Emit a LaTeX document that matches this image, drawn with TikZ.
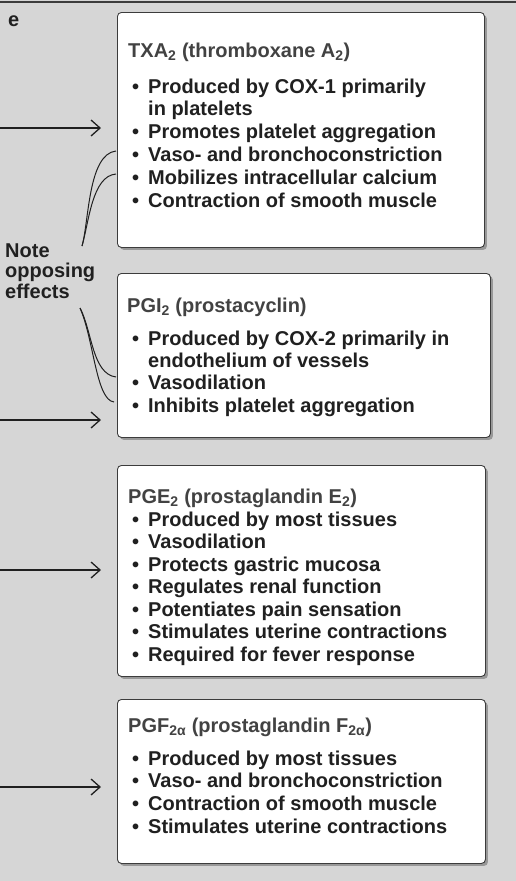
\documentclass[tikz,border=0pt]{standalone}
\usepackage{fontspec}
\setmainfont{Liberation Sans}
\usetikzlibrary{arrows.meta,shadows}
\definecolor{bggray}{RGB}{214,214,214}
\definecolor{inkc}{RGB}{32,32,32}
\definecolor{edgec}{RGB}{60,60,60}
\newcommand{\bl}{\llap{\textbullet\hspace{9pt}}}
\begin{document}
\begin{tikzpicture}[x=1pt,y=-1pt,
  box/.style={draw=edgec,line width=0.9pt,fill=white,rounded corners=4pt,anchor=north west,inner sep=0pt,
    drop shadow={shadow xshift=2.5pt,shadow yshift=-2.5pt,fill=black!60,opacity=0.55}},
  ttl/.style={anchor=base west,inner sep=0pt,font=\fontsize{20}{22}\selectfont\bfseries,text=inkc!85},
  itm/.style={anchor=base west,inner sep=0pt,font=\fontsize{20}{22}\selectfont\bfseries,text=inkc},
  side/.style={anchor=base west,inner sep=0pt,font=\fontsize{20}{22}\selectfont\bfseries,text=inkc},
  arr/.style={-{Straight Barb[length=9pt,width=16pt,line width=1.3pt]},line width=1.3pt,draw=inkc},
  cur/.style={line width=1pt,draw=inkc}]
\fill[bggray] (0,0) rectangle (516,881);
\useasboundingbox (0,0) rectangle (516,881);
\draw[line width=2pt,edgec] (0,2) -- (516,2);
% boxes
\node[box,minimum width=367pt,minimum height=235pt] (box1) at (117,12) {};
\node[box,minimum width=373pt,minimum height=164pt] (box2) at (117,273) {};
\node[box,minimum width=368pt,minimum height=211pt] (box3) at (117,465) {};
\node[box,minimum width=368pt,minimum height=164pt] (box4) at (117,699) {};
% box 1
\node[ttl] (t1) at (128,57) {TXA\textsubscript{2} (thromboxane A\textsubscript{2})};
\node[itm] (b11) at (148,93) {\bl Produced by COX-1 primarily};
\node[itm] (b12) at (148,115.8) {in platelets};
\node[itm] (b13) at (148,138.6) {\bl Promotes platelet aggregation};
\node[itm] (b14) at (148,161.4) {\bl Vaso- and bronchoconstriction};
\node[itm] (b15) at (148,184.2) {\bl Mobilizes intracellular calcium};
\node[itm] (b16) at (148,207) {\bl Contraction of smooth muscle};
% box 2
\node[ttl] (t2) at (127,312) {PGI\textsubscript{2} (prostacyclin)};
\node[itm] (b21) at (148,345) {\bl Produced by COX-2 primarily in};
\node[itm] (b22) at (148,367.3) {endothelium of vessels};
\node[itm] (b23) at (148,389.6) {\bl Vasodilation};
\node[itm] (b24) at (148,412) {\bl Inhibits platelet aggregation};
% box 3
\node[ttl] (t3) at (128,503) {PGE\textsubscript{2} (prostaglandin E\textsubscript{2})};
\node[itm] (b31) at (148,526) {\bl Produced by most tissues};
\node[itm] (b32) at (148,548.5) {\bl Vasodilation};
\node[itm] (b33) at (148,571) {\bl Protects gastric mucosa};
\node[itm] (b34) at (148,593.5) {\bl Regulates renal function};
\node[itm] (b35) at (148,616) {\bl Potentiates pain sensation};
\node[itm] (b36) at (148,638.5) {\bl Stimulates uterine contractions};
\node[itm] (b37) at (148,661) {\bl Required for fever response};
% box 4
\node[ttl] (t4) at (128,732) {PGF\textsubscript{2α} (prostaglandin F\textsubscript{2α})};
\node[itm] (b41) at (148,765) {\bl Produced by most tissues};
\node[itm] (b42) at (148,787.7) {\bl Vaso- and bronchoconstriction};
\node[itm] (b43) at (148,810.3) {\bl Contraction of smooth muscle};
\node[itm] (b44) at (148,833) {\bl Stimulates uterine contractions};
% side texts
\node[side] (e) at (8,26) {e};
\node[side] (n1) at (5,257) {Note};
\node[side] (n2) at (5,277.5) {opposing};
\node[side] (n3) at (5,298) {effects};
% arrows
\coordinate (s1) at (0,128);
\coordinate (s2) at (0,420);
\coordinate (s3) at (0,570);
\coordinate (s4) at (0,787);
\draw[arr] (s1) -- ([xshift=-16pt]box1.west |- s1);
\draw[arr] (s2) -- ([xshift=-16pt]box2.west |- s2);
\draw[arr] (s3) -- ([xshift=-16pt]box3.west |- s3);
\draw[arr] (s4) -- ([xshift=-16pt]box4.west |- s4);
% curves
\coordinate (up) at (82,246);
\coordinate (ua) at (116,151);
\coordinate (ub) at (116,174);
\coordinate (lo) at (80,308);
\coordinate (la) at (116,377);
\coordinate (lb) at (114,402);
\draw[cur] (up) .. controls (89,222) and (88,154) .. (ua);
\draw[cur] (up) .. controls (89,222) and (92,176) .. (ub);
\draw[cur] (lo) .. controls (92,330) and (92,374) .. (la);
\draw[cur] (lo) .. controls (94,340) and (96,400) .. (lb);
\end{tikzpicture}
\end{document}
